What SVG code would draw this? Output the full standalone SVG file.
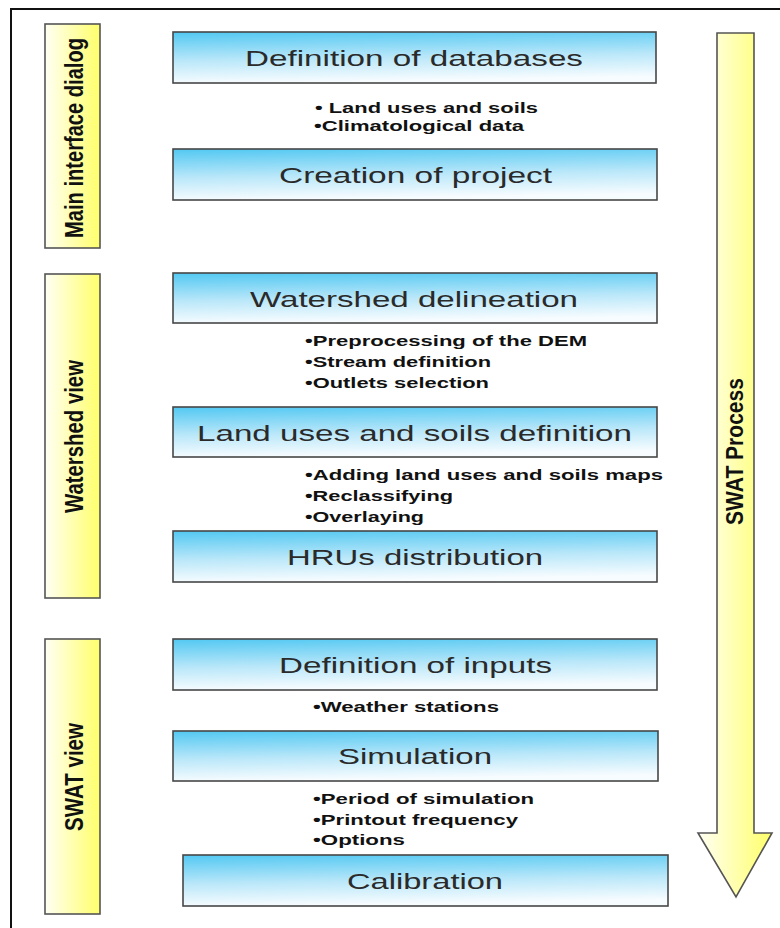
<svg xmlns="http://www.w3.org/2000/svg" width="780" height="928" viewBox="0 0 780 928">
  <defs>
    <linearGradient id="blue" x1="0" y1="0" x2="0.15" y2="1">
      <stop offset="0" stop-color="#52c8f2"/>
      <stop offset="0.55" stop-color="#b9e7f9"/>
      <stop offset="1" stop-color="#f7fcff"/>
    </linearGradient>
    <linearGradient id="yellow" x1="0" y1="0" x2="1" y2="0">
      <stop offset="0" stop-color="#fffff4"/>
      <stop offset="1" stop-color="#ffff6a"/>
    </linearGradient>
    <style>
      .box { fill: url(#blue); stroke: #474747; stroke-width: 1.6; }
      .side { fill: url(#yellow); stroke: #555; stroke-width: 1.6; }
      .title { font-family: "Liberation Sans", Arial, sans-serif; font-size: 22px; fill: #2a2a2a; text-anchor: middle; }
      .bullet { font-family: "Liberation Sans", Arial, sans-serif; font-size: 15px; font-weight: bold; fill: #111; }
      .vlabel { font-family: "Liberation Sans", Arial, sans-serif; font-size: 20px; font-weight: bold; fill: #111; text-anchor: middle; }
      .frame { stroke: #111; stroke-width: 2; fill: none; }
    </style>
  </defs>
  <rect x="0" y="0" width="780" height="928" fill="#ffffff"/>
  <path class="frame" d="M11,928 V9 H780"/>

  <g id="main-interface-dialog">
    <rect class="side" x="45" y="24" width="55" height="224"/>
    <text class="vlabel" transform="translate(83,138) scale(1.3,1) rotate(-90)" textLength="200" lengthAdjust="spacingAndGlyphs">Main interface dialog</text>
  </g>
  <g id="watershed-view">
    <rect class="side" x="45" y="274" width="55" height="324"/>
    <text class="vlabel" transform="translate(83,436.5) scale(1.3,1) rotate(-90)" textLength="153" lengthAdjust="spacingAndGlyphs">Watershed view</text>
  </g>
  <g id="swat-view">
    <rect class="side" x="45" y="639" width="55" height="275"/>
    <text class="vlabel" transform="translate(83,777) scale(1.3,1) rotate(-90)" textLength="108" lengthAdjust="spacingAndGlyphs">SWAT view</text>
  </g>

  <g id="connectors">
    <g id="swat-process">
      <polygon class="side" points="717,33 754,33 754,833 772,833 736,897 698,833 717,833"/>
      <text class="vlabel" style="font-size:20.5px" transform="translate(743,451.5) scale(1.15,1) rotate(-90)" textLength="147" lengthAdjust="spacingAndGlyphs">SWAT Process</text>
    </g>
  </g>

  <g id="definition-of-databases">
    <rect class="box" x="173" y="32" width="483" height="51"/>
    <text class="title" x="414" y="66" textLength="338" lengthAdjust="spacingAndGlyphs">Definition of databases</text>
  </g>
  <g id="databases-notes">
    <text class="bullet" x="315" y="113" textLength="223" lengthAdjust="spacingAndGlyphs">• Land uses and soils</text>
    <text class="bullet" x="314" y="131" textLength="210" lengthAdjust="spacingAndGlyphs">•Climatological data</text>
  </g>
  <g id="creation-of-project">
    <rect class="box" x="173" y="149" width="484" height="51"/>
    <text class="title" x="415.5" y="183" textLength="273" lengthAdjust="spacingAndGlyphs">Creation of project</text>
  </g>

  <g id="watershed-delineation">
    <rect class="box" x="173" y="273" width="484" height="50"/>
    <text class="title" x="414" y="307" textLength="328" lengthAdjust="spacingAndGlyphs">Watershed delineation</text>
  </g>
  <g id="delineation-notes">
    <text class="bullet" x="305" y="346" textLength="282" lengthAdjust="spacingAndGlyphs">•Preprocessing of the DEM</text>
    <text class="bullet" x="305" y="367" textLength="186" lengthAdjust="spacingAndGlyphs">•Stream definition</text>
    <text class="bullet" x="305" y="388" textLength="184" lengthAdjust="spacingAndGlyphs">•Outlets selection</text>
  </g>
  <g id="land-uses-and-soils-definition">
    <rect class="box" x="173" y="407" width="484" height="50"/>
    <text class="title" x="414.5" y="441" textLength="435" lengthAdjust="spacingAndGlyphs">Land uses and soils definition</text>
  </g>
  <g id="land-uses-notes">
    <text class="bullet" x="305" y="480" textLength="358" lengthAdjust="spacingAndGlyphs">•Adding land uses and soils maps</text>
    <text class="bullet" x="305" y="501" textLength="148" lengthAdjust="spacingAndGlyphs">•Reclassifying</text>
    <text class="bullet" x="305" y="522" textLength="119" lengthAdjust="spacingAndGlyphs">•Overlaying</text>
  </g>
  <g id="hrus-distribution">
    <rect class="box" x="173" y="531" width="484" height="51"/>
    <text class="title" x="415" y="565" textLength="256" lengthAdjust="spacingAndGlyphs">HRUs distribution</text>
  </g>

  <g id="definition-of-inputs">
    <rect class="box" x="173" y="639" width="484" height="51"/>
    <text class="title" x="415.5" y="673" textLength="273" lengthAdjust="spacingAndGlyphs">Definition of inputs</text>
  </g>
  <g id="inputs-notes">
    <text class="bullet" x="313" y="712" textLength="186" lengthAdjust="spacingAndGlyphs">•Weather stations</text>
  </g>
  <g id="simulation">
    <rect class="box" x="173" y="731" width="485" height="50"/>
    <text class="title" x="415" y="764" textLength="154" lengthAdjust="spacingAndGlyphs">Simulation</text>
  </g>
  <g id="simulation-notes">
    <text class="bullet" x="313" y="804" textLength="221" lengthAdjust="spacingAndGlyphs">•Period of simulation</text>
    <text class="bullet" x="313" y="825" textLength="205" lengthAdjust="spacingAndGlyphs">•Printout frequency</text>
    <text class="bullet" x="313" y="845" textLength="92" lengthAdjust="spacingAndGlyphs">•Options</text>
  </g>
  <g id="calibration">
    <rect class="box" x="183" y="855" width="485" height="51"/>
    <text class="title" x="425" y="889" textLength="156" lengthAdjust="spacingAndGlyphs">Calibration</text>
  </g>
</svg>
